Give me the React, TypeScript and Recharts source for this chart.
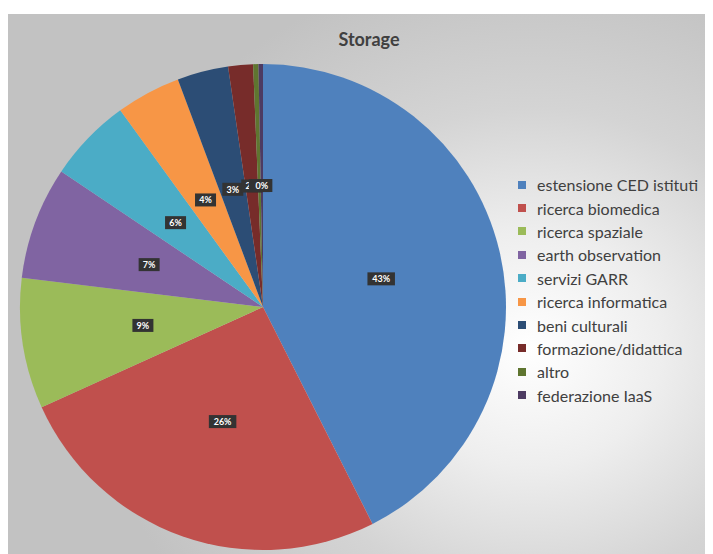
import React from 'react';
import { PieChart, Pie, Cell, Legend } from 'recharts';

const categories = [
  'estensione CED istituti',
  'ricerca biomedica',
  'ricerca spaziale',
  'earth observation',
  'servizi GARR',
  'ricerca informatica',
  'beni culturali',
  'formazione/didattica',
  'altro',
  'federazione IaaS',
];
const values = [42.6, 25.7, 8.7, 7.5, 5.6, 4.3, 3.4, 1.65, 0.35, 0.3];
const colors = [
  '#4F81BD', '#C0504D', '#9BBB59', '#8064A2', '#4BACC6',
  '#F79646', '#2C4D75', '#772C2A', '#5F7530', '#4D3B62',
];

const data = categories.map((name, i) => ({ name, value: values[i] }));

const RADIAN = Math.PI / 180;

const renderLabel = (props: any) => {
  const { cx, cy, midAngle, outerRadius, percent } = props;
  const r = outerRadius * 0.5;
  const x = cx + r * Math.cos(-midAngle * RADIAN);
  const y = cy + r * Math.sin(-midAngle * RADIAN);
  const txt = `${Math.round(percent * 100)}%`;
  const w = txt.length * 6.5 + 8;
  const h = 13;
  return (
    <g>
      <rect x={x - w / 2} y={y - h / 2} width={w} height={h} fill="#333333" />
      <text
        x={x}
        y={y + 3.2}
        textAnchor="middle"
        fill="#ffffff"
        fontSize={9}
        fontWeight="bold"
        fontFamily="Lato, 'Open Sans', sans-serif"
      >
        {txt}
      </text>
    </g>
  );
};

const renderLegend = () => (
  <div style={{ whiteSpace: 'nowrap', overflow: 'hidden' }}>
    {categories.map((c, i) => (
      <div
        key={c}
        style={{
          height: 23.4,
          display: 'flex',
          alignItems: 'center',
          fontFamily: "Lato, 'Open Sans', sans-serif",
          fontSize: 16,
          color: '#404040',
        }}
      >
        <span
          style={{
            display: 'inline-block',
            width: 8,
            height: 8,
            background: colors[i],
            marginRight: 11,
            flex: 'none',
          }}
        />
        <span>{c}</span>
      </div>
    ))}
  </div>
);

export default function App() {
  return (
    <div style={{ paddingTop: 6 }}>
      <div
        style={{
          position: 'relative',
          width: 705,
          height: 540,
          overflow: 'hidden',
          background:
            'radial-gradient(ellipse 62% 72% at 74% 62%, #ffffff 0%, #eeeeee 30%, #d4d4d4 62%, #c2c2c2 100%)',
        }}
      >
        <div
          style={{
            position: 'absolute',
            left: 0,
            top: 14,
            width: 722,
            textAlign: 'center',
            fontFamily: "Lato, 'Open Sans', sans-serif",
            fontWeight: 'bold',
            fontSize: 18,
            color: '#404040',
          }}
        >
          Storage
        </div>
        <PieChart width={705} height={540} style={{ position: 'absolute', left: 0, top: 0 }}>
          <Pie
            data={data}
            dataKey="value"
            nameKey="name"
            cx={250}
            cy={288}
            outerRadius={243}
            startAngle={90}
            endAngle={-270}
            stroke="none"
            label={renderLabel}
            labelLine={false}
            isAnimationActive={false}
          >
            {data.map((d, i) => (
              <Cell key={d.name} fill={colors[i]} />
            ))}
          </Pie>
          <Legend
            content={renderLegend}
            wrapperStyle={{ position: 'absolute', left: 510, top: 159, width: 200 }}
          />
        </PieChart>
      </div>
    </div>
  );
}
